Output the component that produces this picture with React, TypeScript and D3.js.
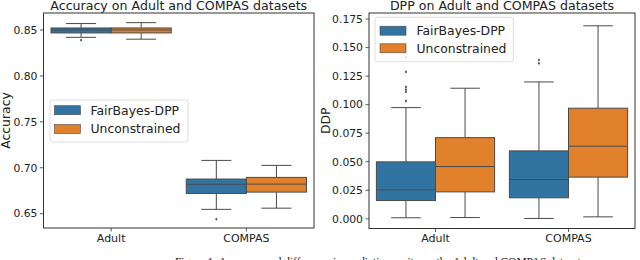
import * as d3 from "d3";

// ---------- DATA ----------
const categories = ["Adult", "COMPAS"];
const methods = ["FairBayes-DPP", "Unconstrained"];
const colors = ["#3274a1", "#e1812c"];

// box stats: [whiskerLow, q1, median, q3, whiskerHigh]
const accFair = [
  [0.842, 0.8468, 0.850, 0.8522, 0.857],
  [0.6547, 0.672, 0.682, 0.6877, 0.708],
];
const accUncon = [
  [0.840, 0.8468, 0.850, 0.8522, 0.858],
  [0.656, 0.6735, 0.6822, 0.6895, 0.7026],
];
const accFairOutliers = [[0.839], [0.644]];
const accUnconOutliers = [[], []];

const dppFair = [
  [0.0009, 0.016, 0.0254, 0.0499, 0.0974],
  [0.0003, 0.0184, 0.0344, 0.0595, 0.1199],
];
const dppUncon = [
  [0.0011, 0.0236, 0.0458, 0.0711, 0.1144],
  [0.0017, 0.0365, 0.0636, 0.0969, 0.1691],
];
const dppFairOutliers = [
  [0.1032, 0.1112, 0.1132, 0.1155, 0.1287, 0.1415],
  [0.1362, 0.1392],
];
const dppUnconOutliers = [[], []];

const accTicks = [0.65, 0.7, 0.75, 0.8, 0.85];
const dppTicks = [0, 0.025, 0.05, 0.075, 0.1, 0.125, 0.15, 0.175];

const caption =
  "Figure 1: Accuracy and difference in predictive parity on the Adult and COMPAS datasets.";

const W = 640;
const H = 260;
const FONT = "DejaVu Sans";
const LINE = "#4a4a4a";

function Panel({ x0, x1, y0, y1, domain, ticks, fmt, title, ylabel, ylabelX, stats, outliers, legend, tickFont }) {
  const x = d3.scaleBand().domain(categories).range([x0, x1]);
  const inner = d3
    .scaleBand()
    .domain(methods)
    .range([0, x.bandwidth()])
    .paddingOuter(0.125)
    .paddingInner(0);
  const y = d3.scaleLinear().domain(domain).range([y1, y0]);
  const bw = inner.bandwidth();

  return (
    <g>
      <text x={(x0 + x1) / 2} y={9.5} textAnchor="middle" fontSize={12.6} fill="#222">
        {title}
      </text>

      {categories.map((c, ci) =>
        methods.map((m, mi) => {
          const s = stats[mi][ci];
          const left = x(c)! + inner(m)!;
          const cx = left + bw / 2;
          const capHalf = bw / 4;
          return (
            <g key={c + m}>
              <line x1={cx} x2={cx} y1={y(s[0])} y2={y(s[1])} stroke={LINE} strokeWidth={1} />
              <line x1={cx} x2={cx} y1={y(s[3])} y2={y(s[4])} stroke={LINE} strokeWidth={1} />
              <line x1={cx - capHalf} x2={cx + capHalf} y1={y(s[0])} y2={y(s[0])} stroke={LINE} strokeWidth={1} />
              <line x1={cx - capHalf} x2={cx + capHalf} y1={y(s[4])} y2={y(s[4])} stroke={LINE} strokeWidth={1} />
              <rect
                x={left}
                width={bw}
                y={y(s[3])}
                height={y(s[1]) - y(s[3])}
                fill={colors[mi]}
                stroke={LINE}
                strokeWidth={1}
              />
              <line x1={left} x2={left + bw} y1={y(s[2])} y2={y(s[2])} stroke={LINE} strokeWidth={1} />
              {outliers[mi][ci].map((v, k) => (
                <path
                  key={k}
                  d={d3.symbol(d3.symbolDiamond2, 7)()!}
                  transform={`translate(${cx},${y(v)}) scale(0.7,1)`}
                  fill={LINE}
                />
              ))}
            </g>
          );
        })
      )}

      <rect x={x0} y={y0} width={x1 - x0} height={y1 - y0} fill="none" stroke="#333" strokeWidth={1} />

      {ticks.map((t) => (
        <g key={t}>
          <line x1={x0 - 3.5} x2={x0} y1={y(t)} y2={y(t)} stroke="#333" strokeWidth={0.8} />
          <text x={x0 - 6} y={y(t)} dy="0.35em" textAnchor="end" fontSize={tickFont} fill="#222">
            {fmt(t)}
          </text>
        </g>
      ))}
      {categories.map((c) => (
        <g key={c}>
          <line
            x1={x(c)! + x.bandwidth() / 2}
            x2={x(c)! + x.bandwidth() / 2}
            y1={y1}
            y2={y1 + 3.5}
            stroke="#333"
            strokeWidth={0.8}
          />
          <text x={x(c)! + x.bandwidth() / 2} y={242} textAnchor="middle" fontSize={11} fill="#222">
            {c}
          </text>
        </g>
      ))}

      <text
        transform={`translate(${ylabelX},${(y0 + y1) / 2}) rotate(-90)`}
        textAnchor="middle"
        fontSize={12.4}
        fill="#222"
      >
        {ylabel}
      </text>

      <g>
        <rect
          x={legend.x}
          y={legend.y}
          width={legend.w}
          height={legend.h}
          rx={2.5}
          fill="#fff"
          fillOpacity={0.8}
          stroke="#d6d6d6"
          strokeWidth={0.8}
        />
        {methods.map((m, mi) => (
          <g key={m}>
            <rect
              x={legend.px}
              y={legend.rows[mi] - 4.5}
              width={26}
              height={9}
              fill={colors[mi]}
              stroke={LINE}
              strokeWidth={0.6}
            />
            <text x={legend.tx} y={legend.rows[mi]} dy="0.36em" fontSize={12.4} fill="#222">
              {m}
            </text>
          </g>
        ))}
      </g>
    </g>
  );
}

export default function App() {
  return (
    <svg
      width={W}
      height={H}
      style={{ position: "absolute", left: 0, top: 0, background: "#fff" }}
      fontFamily={FONT}
    >
      <rect width={W} height={H} fill="#fff" />
      <Panel
        x0={43.5}
        x1={314}
        y0={13}
        y1={228}
        domain={[0.6344, 0.8685]}
        ticks={accTicks}
        fmt={d3.format(".2f")}
        title="Accuracy on Adult and COMPAS datasets"
        ylabel="Accuracy"
        ylabelX={9.5}
        stats={[accFair, accUncon]}
        outliers={[accFairOutliers, accUnconOutliers]}
        legend={{ x: 50, y: 100, w: 138, h: 42, px: 54.5, tx: 90.5, rows: [110.2, 129] }}
        tickFont={10.8}
      />
      <Panel
        x0={369}
        x1={635}
        y0={13}
        y1={228.5}
        domain={[-0.0085, 0.1803]}
        ticks={dppTicks}
        fmt={d3.format(".3f")}
        title="DPP on Adult and COMPAS datasets"
        ylabel="DDP"
        ylabelX={330}
        stats={[dppFair, dppUncon]}
        outliers={[dppFairOutliers, dppUnconOutliers]}
        legend={{ x: 375, y: 17.3, w: 138.3, h: 44.4, px: 380, tx: 416.5, rows: [30.7, 48.3] }}
        tickFont={10.8}
      />
      <text
        x={175}
        y={266}
        fontFamily="Liberation Serif"
        fontSize={12.8}
        textLength={413}
        lengthAdjust="spacingAndGlyphs"
        fill="#111"
      >
        {caption}
      </text>
    </svg>
  );
}
